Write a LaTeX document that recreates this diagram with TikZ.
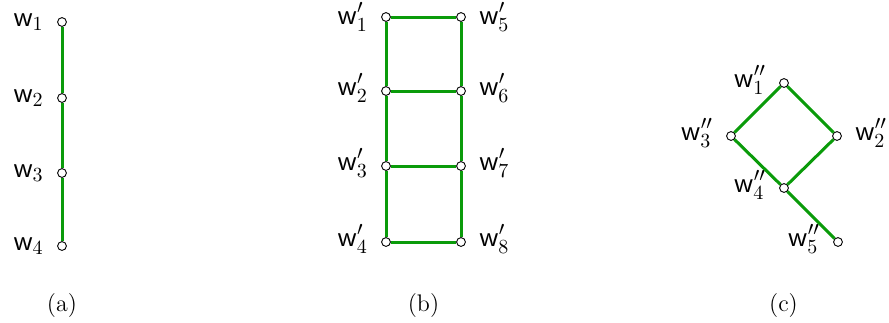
\documentclass[tikz,border=0pt]{standalone}
\usepackage{amsmath}
\definecolor{edgegreen}{RGB}{10,155,10}
\tikzset{
  vtx/.style={circle, draw=black, fill=white, line width=0.45pt, inner sep=0pt, minimum size=4.4pt},
  edge/.style={draw=edgegreen, line width=1.5pt},
  lbl/.style={font=\fontsize{14}{17}\selectfont, inner sep=0pt},
  capt/.style={font=\fontsize{12}{14}\selectfont, inner sep=0pt, anchor=base},
}
\newcommand{\lw}[1]{$\mathsf{w}#1$}
\begin{document}
\begin{tikzpicture}[x=0.5pt,y=-0.5pt]
\useasboundingbox (0,0) rectangle (889,322);
% (a)
\node[vtx, label={[lbl,anchor=mid east,label distance=6.5pt]left:\lw{_1}}] (a1) at (62,22) {};
\node[vtx, label={[lbl,anchor=mid east,label distance=6.5pt]left:\lw{_2}}] (a2) at (62,98) {};
\node[vtx, label={[lbl,anchor=mid east,label distance=6.5pt]left:\lw{_3}}] (a3) at (62,173) {};
\node[vtx, label={[lbl,anchor=mid east,label distance=6.5pt]left:\lw{_4}}] (a4) at (62,246) {};
\draw[edge] (a1) -- (a2);
\draw[edge] (a2) -- (a3);
\draw[edge] (a3) -- (a4);
\node[capt] (ca) at (62,311) {(a)};
% (b)
\node[vtx, label={[lbl,anchor=mid east,label distance=6.5pt,yshift=-1.5pt]left:\lw{'_1}}] (b1) at (386,17) {};
\node[vtx, label={[lbl,anchor=mid east,label distance=6.5pt]left:\lw{'_2}}] (b2) at (386,91) {};
\node[vtx, label={[lbl,anchor=mid east,label distance=6.5pt]left:\lw{'_3}}] (b3) at (386,166) {};
\node[vtx, label={[lbl,anchor=mid east,label distance=6.5pt]left:\lw{'_4}}] (b4) at (386,242) {};
\node[vtx, label={[lbl,anchor=mid west,label distance=6.5pt,yshift=-1.5pt]right:\lw{'_5}}] (b5) at (461,17) {};
\node[vtx, label={[lbl,anchor=mid west,label distance=6.5pt]right:\lw{'_6}}] (b6) at (461,91) {};
\node[vtx, label={[lbl,anchor=mid west,label distance=6.5pt]right:\lw{'_7}}] (b7) at (461,166) {};
\node[vtx, label={[lbl,anchor=mid west,label distance=6.5pt]right:\lw{'_8}}] (b8) at (461,242) {};
\draw[edge] (b1) -- (b2);
\draw[edge] (b2) -- (b3);
\draw[edge] (b3) -- (b4);
\draw[edge] (b5) -- (b6);
\draw[edge] (b6) -- (b7);
\draw[edge] (b7) -- (b8);
\draw[edge] (b1) -- (b5);
\draw[edge] (b2) -- (b6);
\draw[edge] (b3) -- (b7);
\draw[edge] (b4) -- (b8);
\node[capt] (cb) at (423.5,311) {(b)};
% (c)
\node[vtx, label={[lbl,anchor=mid east,label distance=6.5pt]left:\lw{''_1}}] (c1) at (784,83) {};
\node[vtx, label={[lbl,anchor=mid west,label distance=6.5pt]right:\lw{''_2}}] (c2) at (837,136) {};
\node[vtx, label={[lbl,anchor=mid east,label distance=6.5pt]left:\lw{''_3}}] (c3) at (731,136) {};
\node[vtx, label={[lbl,anchor=mid east,label distance=6.5pt]left:\lw{''_4}}] (c4) at (784,188) {};
\node[vtx, label={[lbl,anchor=mid east,label distance=6.5pt]left:\lw{''_5}}] (c5) at (838,242) {};
\draw[edge] (c1) -- (c2);
\draw[edge] (c1) -- (c3);
\draw[edge] (c3) -- (c4);
\draw[edge] (c2) -- (c4);
\draw[edge] (c4) -- (c5);
\node[capt] (cc) at (783.5,311) {(c)};
\end{tikzpicture}
\end{document}
